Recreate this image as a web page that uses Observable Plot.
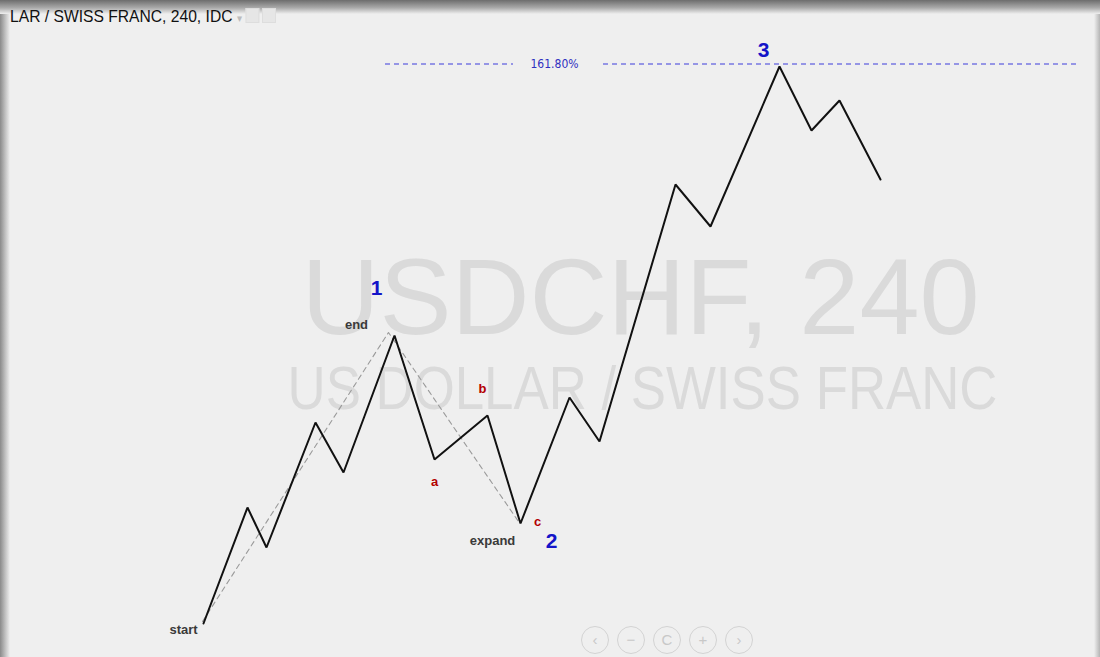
<!DOCTYPE html>
<html>
<head>
<meta charset="utf-8">
<script src="https://cdn.jsdelivr.net/npm/d3@7"></script>
<script src="https://cdn.jsdelivr.net/npm/@observablehq/plot@0.6"></script>
<style>
  html, body { margin:0; padding:0; width:1100px; height:657px; overflow:hidden; background:#efefef; }
  #frame { position:relative; width:1100px; height:657px; background:#efefef; }
  #shadowTop { position:absolute; left:0; top:0; width:1100px; height:14px;
    background:linear-gradient(#6d6d6d, #a9a9a9 55%, #efefef); }
  #shadowLeft { position:absolute; left:0; top:0; width:10px; height:657px;
    background:linear-gradient(90deg, #8a8a8a, #c8c8c8 60%, #efefef); }
  #shadowRight { position:absolute; right:0; top:0; width:6px; height:657px;
    background:linear-gradient(270deg, #b5b5b5, #efefef); }
  #header { position:absolute; left:10px; top:7px; font-family:"Liberation Sans",Arial,sans-serif;
    font-size:17px; color:#111; white-space:nowrap; transform:scaleX(0.92); transform-origin:0 0; }
  #header .ic { display:inline-block; width:13px; height:13px; border:1px solid #ddd; background:#e6e6e6; margin-left:3px; vertical-align:-1px; }
  #nav { position:absolute; left:581px; top:626px; display:flex; gap:8px; }
  #nav div { width:26px; height:26px; border:1.5px solid #d3d3d3; border-radius:50%; color:#c8c8c8;
    font-family:"Liberation Sans",Arial,sans-serif; font-size:15px; line-height:26px; text-align:center; }
  #chart { position:absolute; left:0; top:0; }
</style>
</head>
<body>
<div id="frame">
  <div id="chart"></div>
  <div id="shadowLeft"></div>
  <div id="shadowRight"></div>
  <div id="shadowTop"></div>
  <div id="header">LAR / SWISS FRANC, 240, IDC <span style="color:#bbb;font-size:11px">▾</span><span class="ic"></span><span class="ic"></span></div>
  <div id="nav"><div>‹</div><div>−</div><div>C</div><div>+</div><div>›</div></div>
</div>
<script>
// Wave swing points: bar index and price
const bars   = [40.6, 49.4, 53.2, 63.0, 68.6, 78.8, 86.8, 97.4, 104.0, 113.8, 119.8, 135.0, 142.0, 155.8, 162.2, 167.8, 176.0];
const prices = [0.9034, 0.9150, 0.9110, 0.9235, 0.9185, 0.9322, 0.9198, 0.9242, 0.9134, 0.9260, 0.9216, 0.9473, 0.9431, 0.9591, 0.9527, 0.9557, 0.9478];

// Dashed guide (start -> end -> expand)
const guideBars   = [40.4, 77.6, 103.6];
const guidePrices = [0.9036, 0.9325, 0.9136];

// 161.80% extension level
const extLevel = 0.95935;
const extSegStart = [77.0, 120.6];
const extSegEnd   = [102.6, 216.0];
const extLabel = "161.80%";
const extLabelBar = 110.8;

// Labels
const labelText   = ["start", "end", "expand", "a", "b", "c", "1", "2", "3"];
const labelBars   = [36.6, 71.2, 98.4, 86.8, 96.4, 107.4, 75.2, 110.2, 152.6];
const labelPrices = [0.9028, 0.9333, 0.9117, 0.9176, 0.9269, 0.9136, 0.9369, 0.9116, 0.9607];
const labelKind   = ["gray", "gray", "gray", "red", "red", "red", "blue", "blue", "blue"];

// Watermark
const wmText   = ["USDCHF, 240", "US DOLLAR / SWISS FRANC"];
const wmBars   = [128.0, 128.4];
const wmPrices = [0.9358, 0.9268];
const wmSizes  = [108, 62];
const wmWidths = [678, 710];

const wave  = bars.map((b, i) => ({bar: b, price: prices[i]}));
const guide = guideBars.map((b, i) => ({bar: b, price: guidePrices[i]}));
const ext   = extSegStart.map((s, i) => ({x1: s, x2: extSegEnd[i], y: extLevel}));
const labels = labelText.map((t, i) => ({text: t, bar: labelBars[i], price: labelPrices[i], kind: labelKind[i]}));
const wm = wmText.map((t, i) => ({text: t, bar: wmBars[i], price: wmPrices[i], size: wmSizes[i]}));

const style = {
  gray: {fill: "#3a3a3a", size: 13, weight: "bold"},
  red:  {fill: "#b30000", size: 13, weight: "bold"},
  blue: {fill: "#1414c8", size: 21, weight: "bold"}
};

const marks = [];
wm.forEach((w, i) => marks.push(Plot.text([w], {
  x: "bar", y: "price", text: "text", fontSize: w.size,
  fontFamily: "Liberation Sans, Arial, sans-serif",
  fill: "#dadada", className: "wm" + i
})));
marks.push(Plot.ruleY(ext, {y: "y", x1: "x1", x2: "x2", stroke: "#3c3cdc", strokeWidth: 1.2, strokeDasharray: "5,4"}));
marks.push(Plot.text([{bar: extLabelBar, price: extLevel, text: extLabel}], {
  x: "bar", y: "price", text: "text", fontSize: 12, fill: "#3030c0",
  fontFamily: "DejaVu Sans Condensed, Liberation Sans, Arial, sans-serif"
}));
marks.push(Plot.line(guide, {x: "bar", y: "price", stroke: "#9a9a9a", strokeWidth: 1.1, strokeDasharray: "5,4"}));
marks.push(Plot.line(wave, {x: "bar", y: "price", stroke: "#111", strokeWidth: 2, strokeLinejoin: "miter"}));
for (const k of ["gray", "red", "blue"]) {
  marks.push(Plot.text(labels.filter(d => d.kind === k), {
    x: "bar", y: "price", text: "text", fill: style[k].fill, fontSize: style[k].size,
    fontWeight: style[k].weight, fontFamily: "Liberation Sans, Arial, sans-serif"
  }));
}

const chart = Plot.plot({
  width: 1100, height: 657,
  margin: 0,
  x: {domain: [0, 220], axis: null},
  y: {domain: [0.9000, 0.9657], axis: null},
  style: {background: "transparent"},
  marks
});
// fit watermark lines to their measured widths
wmWidths.forEach((w, i) => {
  d3.select(chart).selectAll(".wm" + i + " text")
    .attr("textLength", w).attr("lengthAdjust", "spacingAndGlyphs");
});
document.getElementById("chart").appendChild(chart);
</script>
</body>
</html>
